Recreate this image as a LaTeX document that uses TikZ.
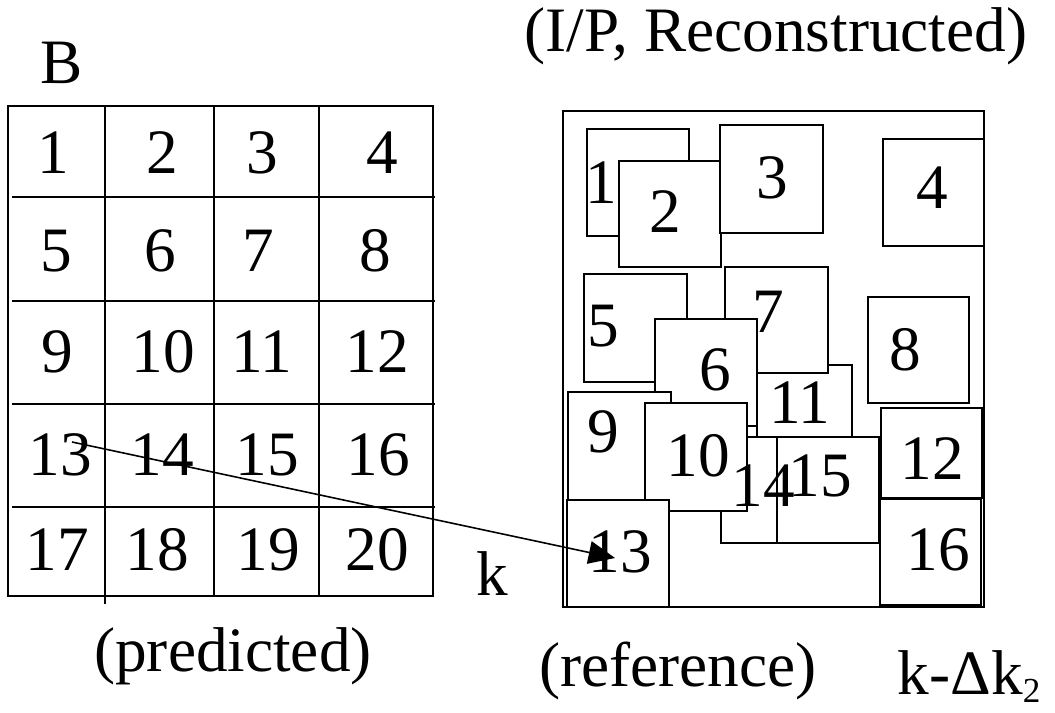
\documentclass[tikz,border=0pt]{standalone}
\usepackage{fontspec}
\setmainfont{Liberation Serif}
\usetikzlibrary{arrows.meta,calc}
\begin{document}
\begin{tikzpicture}[x=0.02cm,y=-0.02cm,line width=0.9pt,
  lbl/.style={inner sep=0pt,font=\fontsize{36}{40}\selectfont},
  blk/.style={draw=black,fill=white,line width=0.9pt}]
\useasboundingbox (0,0) rectangle (1055,713);
% left grid
\draw (8,106) rectangle (433,596);
\foreach \yy in {197,301,404,507} \draw (12,\yy) -- (435,\yy);
\draw (105,106) -- (105,604);
\draw (214,106) -- (214,596);
\draw (319,106) -- (319,596);
\node[lbl] (L1) at (53,153) {1};
\node[lbl] (L2) at (162,153) {2};
\node[lbl] (L3) at (262,153) {3};
\node[lbl] (L4) at (382,153) {4};
\node[lbl] (L5) at (56,251) {5};
\node[lbl] (L6) at (160,251) {6};
\node[lbl] (L7) at (258,251) {7};
\node[lbl] (L8) at (375,251) {8};
\node[lbl] (L9) at (57,352) {9};
\node[lbl] (L10) at (163,352) {10};
\node[lbl] (L11) at (262,352) {11};
\node[lbl] (L12) at (377,352) {12};
\node[lbl] (L13) at (60,455) {13};
\node[lbl] (L14) at (162,455) {14};
\node[lbl] (L15) at (267,455) {15};
\node[lbl] (L16) at (378,455) {16};
\node[lbl] (L17) at (57,550) {17};
\node[lbl] (L18) at (157,550) {18};
\node[lbl] (L19) at (268,550) {19};
\node[lbl] (L20) at (377,550) {20};
% right region
\draw (563,111) rectangle (984,607);
\draw[blk] (587,129) rectangle (689,236);
\draw[blk] (619,161) rectangle (721,267);
\draw[blk] (720,125) rectangle (823,233);
\draw[blk] (883,139) rectangle (984,246);
\draw[blk] (584,274) rectangle (687,382);
\draw[blk] (757,365) rectangle (852,437);
\draw[blk] (725,267) rectangle (828,373);
\draw[blk] (655,319) rectangle (757,426);
\draw[blk] (868,297) rectangle (969,403);
\draw[blk] (568,392) rectangle (671,500);
\draw[blk] (721,437) rectangle (800,543);
\draw[blk] (645,403) rectangle (747,511);
\draw[blk] (777,437) rectangle (879,543);
\draw[blk] (881,408) rectangle (982,498);
\draw[blk] (880,499) rectangle (981,605);
\draw[blk] (567,500) rectangle (669,607);
\node[lbl] (R1) at (601,183) {1};
\node[lbl] (R2) at (665,212) {2};
\node[lbl] (R3) at (772,178) {3};
\node[lbl] (R4) at (932,188) {4};
\node[lbl] (R5) at (603,326) {5};
\node[lbl] (R7) at (768,312) {7};
\node[lbl] (R6) at (715,370) {6};
\node[lbl] (R8) at (905,350) {8};
\node[lbl] (R11) at (800,403) {11};
\node[lbl] (R9) at (603,432) {9};
\node[lbl] (R10) at (698,456) {10};
\node[lbl] (R14) at (763,486) {14};
\node[lbl] (R15) at (820,476) {15};
\node[lbl] (R12) at (932,459) {12};
\node[lbl] (R16) at (938,550) {16};
\node[lbl] (R13) at (620,552) {13};
% arrow
\coordinate (ks) at ($(L13)+(12,-13)$);
\coordinate (ke) at ($(R13)+(-5,6)$);
\draw[-{Triangle[length=15pt,width=13pt]}] (ks) -- (ke);
% labels
\node[lbl] (B) at (62,63) {B};
\node[lbl] (k) at (492,574) {k};
\node[lbl] (pred) at (233,656) {(predicted)};
\node[lbl] (iprec) at (776,36) {(I/P, Reconstructed)};
\node[lbl] (refr) at (678,671) {(reference)};
\node[lbl,anchor=base west] (kdk) at (897,694) {k-Δk\raisebox{-5pt}{\fontsize{20}{22}\selectfont 2}};
\end{tikzpicture}
\end{document}
